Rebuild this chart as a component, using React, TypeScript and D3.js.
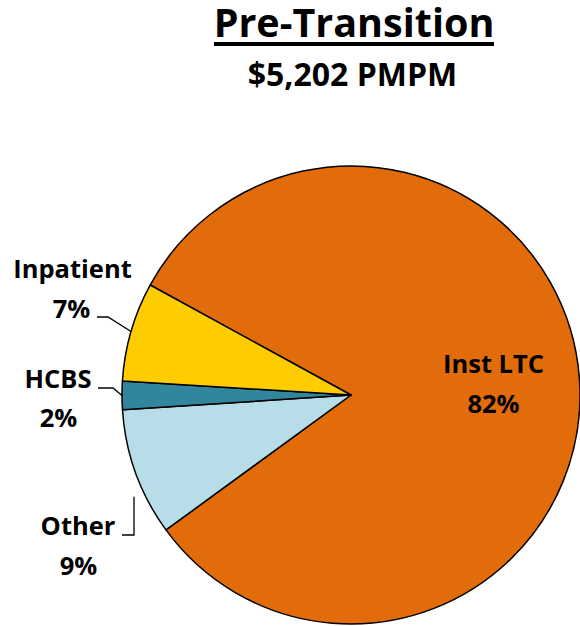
import React from "react";
import * as d3 from "d3";

const categories = ["Inst LTC", "Other", "HCBS", "Inpatient"];
const values = [82, 9, 2, 7];
const pctLabels = ["82%", "9%", "2%", "7%"];
const colors = ["#E36C0A", "#B7DEE8", "#31859C", "#FFCC00"];
const title = "Pre-Transition";
const subtitle = "$5,202 PMPM";

export default function App() {
  const W = 580, H = 626;
  const cx = 351, cy = 395, r = 229;
  const start = (298.7 * Math.PI) / 180;
  const pie = d3.pie<number>().sort(null).startAngle(start).endAngle(start + 2 * Math.PI);
  const arcs = pie(values);
  const arc = d3.arc<d3.PieArcDatum<number>>().innerRadius(0).outerRadius(r);
  const font = "'Open Sans', sans-serif";
  const pt = (a: number, rad: number): [number, number] => [cx + rad * Math.sin(a), cy - rad * Math.cos(a)];
  const mid = (i: number) => (arcs[i].startAngle + arcs[i].endAngle) / 2;
  const line = d3.line();

  const inpEdge = pt(mid(3), r);
  const hcbsEdge = pt(mid(2), r);
  const otherEdge = pt(arcs[1].startAngle + (arcs[1].endAngle - arcs[1].startAngle) * 0.3, r);

  const lblStyle: React.CSSProperties = { fontFamily: font, fontWeight: 700, fontSize: 25.5, fill: "#000" };

  return (
    <svg width={W} height={H} style={{ position: "absolute", left: 0, top: 0, background: "#fff" }}>
      <text x={354} y={37} textAnchor="middle" style={{ fontFamily: font, fontWeight: 700, fontSize: 39.5 }}>{title}</text>
      <line x1={214} x2={494} y1={44} y2={44} stroke="#000" strokeWidth={4} />
      <text x={352.5} y={86} textAnchor="middle" style={{ fontFamily: font, fontWeight: 700, fontSize: 32 }}>{subtitle}</text>
      <g transform={`translate(${cx},${cy})`}>
        {arcs.map((a, i) => (
          <path key={categories[i]} d={arc(a) || ""} fill={colors[i]} stroke="#000" strokeWidth={1.5} strokeLinejoin="round" />
        ))}
      </g>
      <path d={line([[97, 317], [108, 317], inpEdge]) || ""} fill="none" stroke="#000" strokeWidth={1.3} />
      <path d={line([[98, 388], [113, 388], hcbsEdge]) || ""} fill="none" stroke="#000" strokeWidth={1.3} />
      <path d={line([[122, 535], [134, 535], [134, otherEdge[1]]]) || ""} fill="none" stroke="#000" strokeWidth={1.3} />
      <text x={72.5} y={278} textAnchor="middle" style={lblStyle}>{categories[3]}</text>
      <text x={71.5} y={318} textAnchor="middle" style={lblStyle}>{pctLabels[3]}</text>
      <text x={58} y={388} textAnchor="middle" style={lblStyle}>{categories[2]}</text>
      <text x={58.5} y={427} textAnchor="middle" style={lblStyle}>{pctLabels[2]}</text>
      <text x={78} y={535} textAnchor="middle" style={lblStyle}>{categories[1]}</text>
      <text x={78.5} y={575} textAnchor="middle" style={lblStyle}>{pctLabels[1]}</text>
      <text x={493.5} y={373} textAnchor="middle" style={lblStyle}>{categories[0]}</text>
      <text x={493.5} y={413} textAnchor="middle" style={lblStyle}>{pctLabels[0]}</text>
    </svg>
  );
}
